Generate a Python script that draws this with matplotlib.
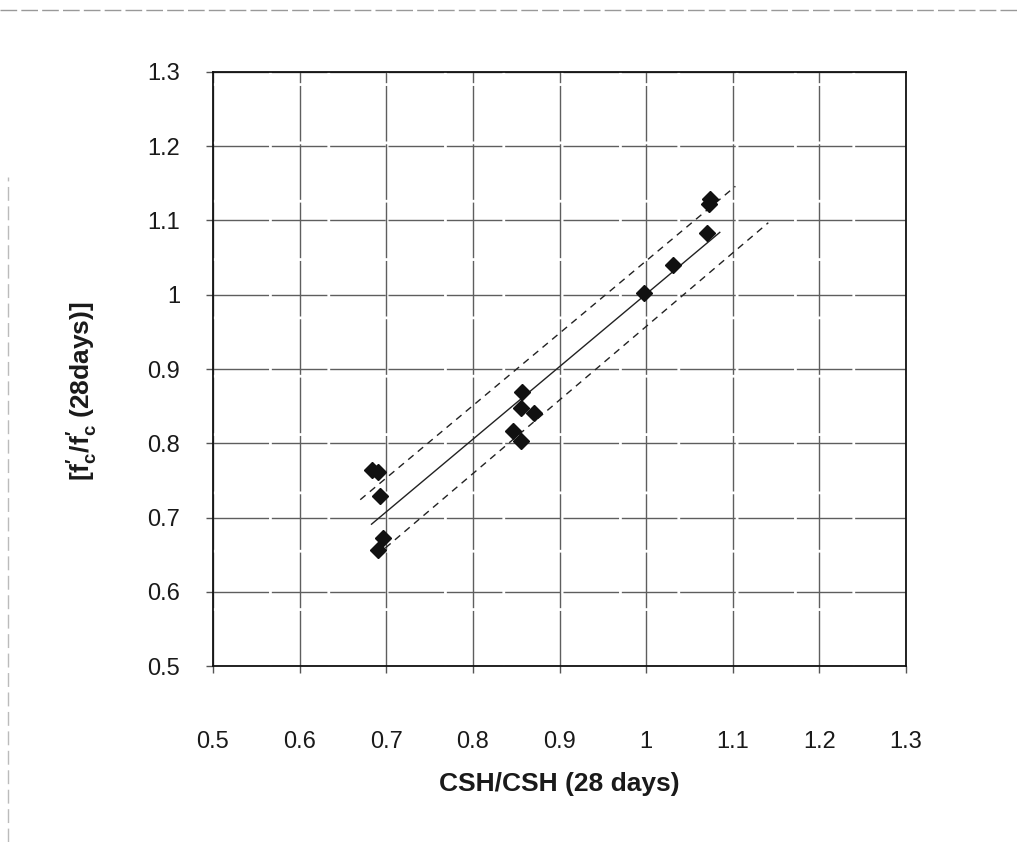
import matplotlib
matplotlib.use("Agg")
import matplotlib.pyplot as plt
from matplotlib.lines import Line2D

plt.rcParams['font.family'] = ['Liberation Sans', 'DejaVu Sans']
plt.rcParams['mathtext.default'] = 'regular'

# Data
csh_ratio = [0.684, 0.691, 0.693, 0.696, 0.691, 0.857, 0.855, 0.870, 0.846, 0.855,
             0.997, 1.031, 1.070, 1.074, 1.072]
fc_ratio = [0.764, 0.761, 0.729, 0.672, 0.656, 0.869, 0.847, 0.841, 0.817, 0.803,
            1.002, 1.040, 1.083, 1.129, 1.122]

fit_x = [0.683, 1.085]
fit_y = [0.691, 1.084]
upper_x = [0.670, 1.103]
upper_y = [0.724, 1.146]
lower_x = [0.699, 1.141]
lower_y = [0.659, 1.097]

ticks = [0.5, 0.6, 0.7, 0.8, 0.9, 1.0, 1.1, 1.2, 1.3]
tick_labels = ['0.5', '0.6', '0.7', '0.8', '0.9', '1', '1.1', '1.2', '1.3']

fig = plt.figure(figsize=(10.17, 8.42), dpi=100)
ax = fig.add_axes([0.2094, 0.2090, 0.6815, 0.7055])

ax.set_xlim(0.5, 1.3)
ax.set_ylim(0.5, 1.3)
ax.set_xticks(ticks)
ax.set_yticks(ticks)
ax.set_xticklabels(tick_labels)
ax.set_yticklabels(tick_labels)
ax.grid(True, color='#5e5e5e', linewidth=1.0, linestyle=(0, (40, 2)))
ax.set_axisbelow(True)

ax.plot(fit_x, fit_y, color='#222222', linewidth=1.0)
ax.plot(upper_x, upper_y, color='#222222', linewidth=1.0, linestyle=(0, (5, 4)))
ax.plot(lower_x, lower_y, color='#222222', linewidth=1.0, linestyle=(0, (5, 4)))
ax.plot(csh_ratio, fc_ratio, linestyle='none', marker='D', markersize=7.8,
        color='#111111')

for s in ax.spines.values():
    s.set_color('#111111')
    s.set_linewidth(1.3)

ax.tick_params(axis='both', direction='out', length=5, width=1, color='#555555',
               labelsize=17, labelcolor='#1a1a1a')
ax.tick_params(axis='y', pad=18.5)
ax.tick_params(axis='x', pad=42)

ax.set_xlabel('CSH/CSH (28 days)', fontsize=19, fontweight='bold', color='#1a1a1a')
ax.xaxis.set_label_coords(0.5, -0.178)
ax.set_ylabel("[f$_c^{\\prime}$/f$_c^{\\prime}$ (28days)]", fontsize=19,
              fontweight='bold', color='#1a1a1a')
ax.yaxis.set_label_coords(-0.163, 0.462)

# scan border artifacts
fig.add_artist(Line2D([0.0, 1.0], [0.988, 0.988], color='#999999', linewidth=1.0,
                      linestyle=(0, (12, 3)), transform=fig.transFigure))
fig.add_artist(Line2D([0.008, 0.008], [0.0, 0.79], color='#bbbbbb', linewidth=1.0,
                      linestyle=(0, (10, 4)), transform=fig.transFigure))

fig.savefig('out.png', dpi=100, facecolor='white')
